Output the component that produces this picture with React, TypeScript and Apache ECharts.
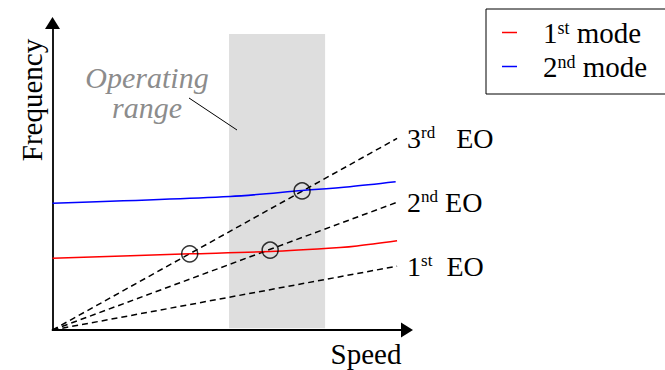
import React, { useEffect, useRef } from "react";
import * as echarts from "echarts";

// Engine-order excitation lines (speed, frequency) from the origin
const eoLabels = ["{n|1}{s|st}{n|  EO}", "{n|2}{s|nd}{n| EO}", "{n|3}{s|rd}{n|   EO}"];
const eo1 = [[0, 0], [97.2, 20.8]];
const eo2 = [[0, 0], [97.2, 41.6]];
const eo3 = [[0, 0], [97.2, 62.4]];

// Natural frequencies of the two modes versus speed
const mode1 = [[0, 23.4], [38.8, 24.8], [61.4, 25.6], [81.1, 26.9], [85.9, 27.4], [97.2, 29.1]];
const mode2 = [[0, 41.3], [50.1, 43.5], [70.4, 45.4], [83.9, 46.7], [96.8, 48.3]];

// Resonance crossings inside / near the operating range
const crossings = [[38.7, 24.8], [61.4, 26.0], [70.4, 45.3]];

// Operating speed band and its drawn height
const operatingRange = [49.8, 76.9];
const bandTop = 96.4;

const modeNames = ["1st mode", "2nd mode"];
const modeLabels = ["{g|}{n|1}{s|st}{n| mode}", "{g|}{n|2}{s|nd}{n| mode}"];

const SERIF = "Liberation Serif";

export default function App() {
  const ref = useRef<HTMLDivElement>(null);

  useEffect(() => {
    if (!ref.current) return;
    const chart = echarts.init(ref.current, undefined, { renderer: "svg" });

    const eoRich = {
      n: { fontSize: 28, fontFamily: SERIF, color: "#000", lineHeight: 28 },
      s: { fontSize: 17, fontFamily: SERIF, color: "#000", verticalAlign: "top", lineHeight: 17 },
    };

    const dashed = (name: string, data: number[][], label: string) => ({
      type: "line",
      name,
      data,
      z: 3,
      symbol: "none",
      silent: true,
      lineStyle: { color: "#000", width: 1.5, type: [6, 4] },
      endLabel: {
        show: true,
        distance: 10,
        fontFamily: SERIF,
        formatter: () => label,
        rich: eoRich,
      },
    });

    chart.setOption({
      animation: false,
      textStyle: { fontFamily: SERIF },
      grid: { left: 52.5, top: 23, right: 258, bottom: 40 },
      xAxis: {
        type: "value",
        min: 0,
        max: 100,
        axisLine: {
          show: true,
          lineStyle: { color: "#000", width: 1.8 },
          symbol: ["none", "triangle"],
          symbolSize: [15, 12],
        },
        axisTick: { show: false },
        axisLabel: { show: false },
        splitLine: { show: false },
      },
      yAxis: {
        type: "value",
        min: 0,
        max: 100,
        axisLine: {
          show: true,
          lineStyle: { color: "#000", width: 1.8 },
          symbol: ["none", "triangle"],
          symbolSize: [15, 12],
        },
        axisTick: { show: false },
        axisLabel: { show: false },
        splitLine: { show: false },
      },
      legend: {
        data: modeNames,
        orient: "vertical",
        left: 486,
        top: 9,
        icon: "rect",
        itemWidth: 15,
        itemHeight: 1.5,
        itemGap: 5,
        padding: [9, 24, 13, 16],
        borderColor: "#000",
        borderWidth: 1,
        formatter: (name: string) => modeLabels[modeNames.indexOf(name)],
        textStyle: {
          fontFamily: SERIF,
          rich: {
            g: { width: 21, lineHeight: 28 },
            n: { fontSize: 29, fontFamily: SERIF, color: "#000", lineHeight: 28 },
            s: { fontSize: 18, fontFamily: SERIF, color: "#000", verticalAlign: "top", lineHeight: 18 },
          },
        },
      },
      series: [
        {
          type: "line",
          name: "band",
          data: [],
          z: 1,
          silent: true,
          markArea: {
            silent: true,
            itemStyle: { color: "#dedede" },
            data: [[{ xAxis: operatingRange[0], yAxis: 0.6 }, { xAxis: operatingRange[1], yAxis: bandTop }]],
          },
        },
        dashed("1st EO", eo1, eoLabels[0]),
        dashed("2nd EO", eo2, eoLabels[1]),
        dashed("3rd EO", eo3, eoLabels[2]),
        {
          type: "line",
          name: modeNames[0],
          data: mode1,
          z: 4,
          smooth: 0.3,
          symbol: "none",
          color: "#ff0000",
          lineStyle: { color: "#ff0000", width: 1.5 },
        },
        {
          type: "line",
          name: modeNames[1],
          data: mode2,
          z: 4,
          smooth: 0.3,
          symbol: "none",
          color: "#0000ff",
          lineStyle: { color: "#0000ff", width: 1.5 },
        },
        {
          type: "scatter",
          name: "crossings",
          data: crossings,
          z: 5,
          symbol: "circle",
          symbolSize: 16,
          itemStyle: { color: "rgba(0,0,0,0)", borderColor: "#000", borderWidth: 1.5 },
        },
      ],
      graphic: [
        {
          type: "text",
          x: 32,
          y: 100,
          rotation: Math.PI / 2,
          style: {
            text: "Frequency",
            fontSize: 29,
            fontFamily: SERIF,
            fill: "#000",
            align: "center",
            verticalAlign: "middle",
          },
        },
        {
          type: "text",
          x: 366,
          y: 354,
          style: {
            text: "Speed",
            fontSize: 29,
            fontFamily: SERIF,
            fill: "#000",
            align: "center",
            verticalAlign: "middle",
          },
        },
        {
          type: "text",
          x: 147,
          y: 92,
          style: {
            text: "Operating\nrange",
            fontSize: 30,
            fontStyle: "italic",
            fontFamily: SERIF,
            lineHeight: 30,
            fill: "#8c8c8c",
            align: "center",
            verticalAlign: "middle",
          },
        },
        {
          type: "line",
          shape: { x1: 189, y1: 98, x2: 237, y2: 130 },
          style: { stroke: "#000", lineWidth: 1 },
          z: 10,
        },
      ],
    });

    return () => chart.dispose();
  }, []);

  return (
    <div
      ref={ref}
      style={{ position: "fixed", left: 0, top: 0, width: 665, height: 370, background: "#fff" }}
    />
  );
}
